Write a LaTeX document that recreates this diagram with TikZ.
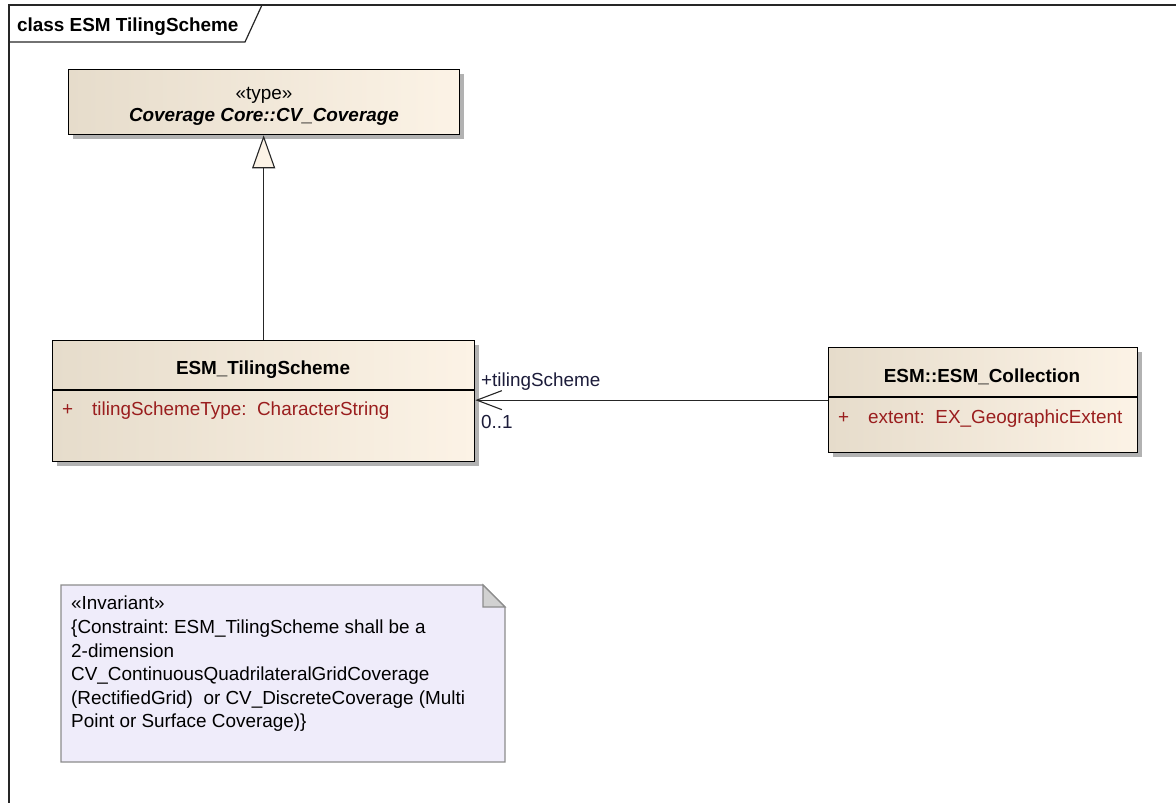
\documentclass[tikz,border=0pt]{standalone}
\usepackage{fontspec}
\setmainfont{Liberation Sans}
\usetikzlibrary{arrows.meta,shadows}
\frenchspacing
\definecolor{boxL}{HTML}{E6DCCB}
\definecolor{boxR}{HTML}{FCF3E6}
\definecolor{attr}{HTML}{9A1E1E}
\definecolor{notefill}{HTML}{EFECFA}
\definecolor{notedraw}{HTML}{8C8C8C}
\definecolor{lbl}{HTML}{1C1C3A}
\tikzset{
  classbox/.style={draw=black, line width=1.3pt, left color=boxL, right color=boxR,
    anchor=north west, inner sep=0pt,
    drop shadow={shadow xshift=4pt, shadow yshift=-4pt, fill=black!30, opacity=1}},
  txt/.style={inner sep=0pt, font=\fontsize{18.9}{22}\selectfont\frenchspacing},
  bold/.style={txt, font=\fontsize{18.9}{22}\selectfont\bfseries},
  attrtxt/.style={txt, text=attr, anchor=mid west},
  conn/.style={line width=1.1pt, draw=black!85}
}
\begin{document}
\begin{tikzpicture}[x=1pt,y=-1pt]
\useasboundingbox (0,0) rectangle (1176,803);
% frame
\draw[line width=1.2pt, draw=black!85] (9,810) -- (9,5) -- (1190,5);
\draw[line width=1.2pt, draw=black!85] (9,42) -- (245,42) -- (262,5);
\node[bold, anchor=mid west] (frametitle) at (17,29) {class ESM TilingScheme};

% CV_Coverage
\node[classbox, minimum width=391pt, minimum height=65pt] (cov) at (68,69) {};
\node[txt, anchor=mid] (covst) at (264,97) {«type»};
\node[bold, anchor=mid] (covname) at (264,119) {\itshape Coverage Core::CV\_Coverage};

% ESM_TilingScheme
\node[classbox, minimum width=422pt, minimum height=121pt] (ts) at (52,340) {};
\draw[line width=1.1pt] (52,390) -- (474,390);
\node[bold, anchor=mid] (tsname) at (263,372) {ESM\_TilingScheme};
\node[attrtxt] (tsplus) at (62,413) {+};
\node[attrtxt] (tsattr) at (92,413) {tilingSchemeType:\ \ CharacterString};

% ESM_Collection
\node[classbox, minimum width=309pt, minimum height=105pt] (col) at (828,347) {};
\draw[line width=1.1pt] (828,397) -- (1137,397);
\node[bold, anchor=mid] (colname) at (982,380) {ESM::ESM\_Collection};
\node[attrtxt] (colplus) at (838,421) {+};
\node[attrtxt] (colattr) at (868,421) {extent:\ \ EX\_GeographicExtent};

% generalization
\draw[conn, -{Triangle[length=33pt,width=23pt,fill=boxR,line width=1.1pt]}] (ts.north) -- (ts.north |- cov.south);

% association
\draw[conn, -{Straight Barb[length=25pt,width=19pt,line width=1.1pt]}] (col.west) -- (col.west -| ts.east);
\node[txt, text=lbl, anchor=mid west] (role) at (481,384) {+tilingScheme};
\node[txt, text=lbl, anchor=mid west] (mult) at (481,426) {0..1};

% note
\draw[draw=notedraw, fill=notefill, line width=1.3pt] (61,585) -- (483,585) -- (505,607) -- (505,762) -- (61,762) -- cycle;
\draw[draw=notedraw, fill=black!18, line width=1.1pt] (483,585) -- (483,607) -- (505,607) -- cycle;
\node[txt, anchor=north west, align=left, font=\fontsize{18.9}{23.6}\selectfont\frenchspacing] (notetext) at (71,596) {«Invariant»\\
{\{}Constraint: ESM\_TilingScheme shall be a\\
2-dimension\\
CV\_ContinuousQuadrilateralGridCoverage\\
(RectifiedGrid)\ \ or CV\_DiscreteCoverage (Multi\\
Point or Surface Coverage)\}};
\end{tikzpicture}
\end{document}
